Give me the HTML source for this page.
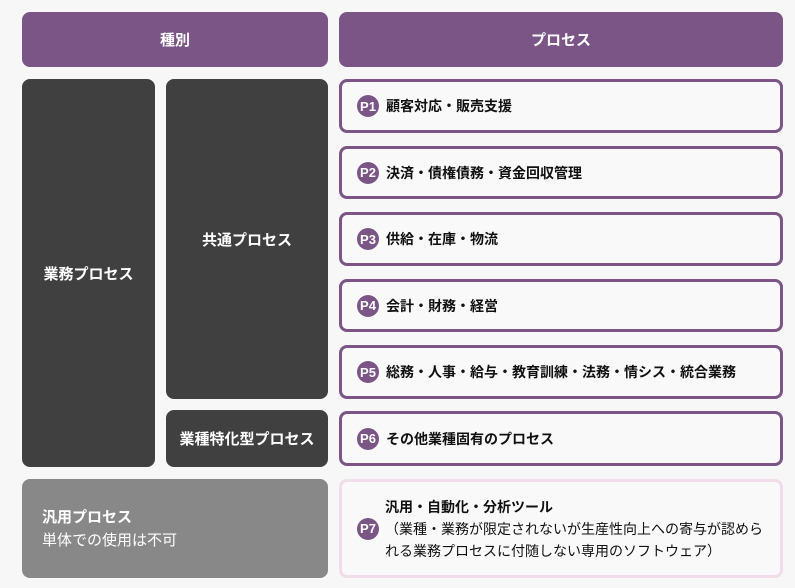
<!DOCTYPE html>
<html><head><meta charset="utf-8"><style>
body{margin:0;width:795px;height:588px;background:#f7f7f7;font-family:"Liberation Sans","Noto Sans CJK JP",sans-serif;position:relative;overflow:hidden}
.b{position:absolute;box-sizing:border-box;border-radius:8px;display:flex;align-items:center}
.h{background:#7a5585;color:#fff;font-weight:bold;font-size:15px;justify-content:center}
.d{background:#404040;color:#fff;font-weight:bold;font-size:15px;justify-content:center}
.p{border:3px solid #7a5585;background:#f9f9f9;font-size:14px;font-weight:bold;color:#111;padding-left:15px;left:339px;width:444px}
.c{width:22px;height:22px;border-radius:50%;background:#7a5585;color:#fff;font-size:13px;font-weight:bold;display:flex;align-items:center;justify-content:center;margin-right:7px;flex:none}
</style></head><body>
<div class="b h" style="left:22px;top:12px;width:306px;height:55px">種別</div>
<div class="b h" style="left:339px;top:12px;width:444px;height:55px">プロセス</div>
<div class="b d" style="left:22px;top:79px;width:133px;height:388px">業務プロセス</div>
<div class="b d" style="left:166px;top:79px;width:162px;height:320px">共通プロセス</div>
<div class="b d" style="left:166px;top:410px;width:162px;height:57px">業種特化型プロセス</div>
<div class="b p" style="top:79px;height:54px"><span class="c">P1</span>顧客対応・販売支援</div>
<div class="b p" style="top:146px;height:53px"><span class="c">P2</span>決済・債権債務・資金回収管理</div>
<div class="b p" style="top:212px;height:54px"><span class="c">P3</span>供給・在庫・物流</div>
<div class="b p" style="top:279px;height:53px"><span class="c">P4</span>会計・財務・経営</div>
<div class="b p" style="top:345px;height:54px"><span class="c">P5</span>総務・人事・給与・教育訓練・法務・情シス・統合業務</div>
<div class="b p" style="top:411px;height:55px"><span class="c">P6</span>その他業種固有のプロセス</div>
<div class="b" style="left:22px;top:479px;width:306px;height:99px;background:#888;color:#fff;padding-left:20px;display:block;padding-top:27px">
<div style="font-weight:bold;font-size:15px;line-height:23px">汎用プロセス</div>
<div style="font-size:15px;line-height:23px">単体での使用は不可</div></div>
<div class="b p" style="top:479px;height:99px;border-color:#f0dcea;font-weight:normal"><span class="c">P7</span>
<div style="line-height:22px;font-size:14px;margin-left:-1px"><b>汎用・自動化・分析ツール</b><br>（業種・業務が限定されないが生産性向上への寄与が認めら<br>れる業務プロセスに付随しない専用のソフトウェア）</div></div>
</body></html>
